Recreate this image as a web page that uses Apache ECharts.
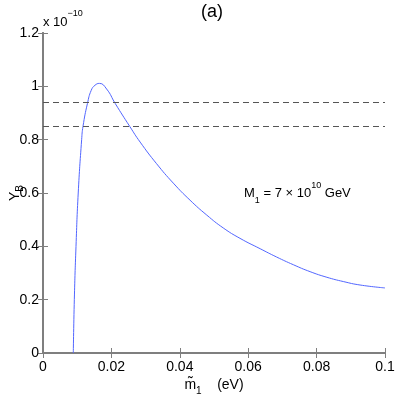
<!DOCTYPE html>
<html>
<head>
<meta charset="utf-8">
<script src="https://cdn.jsdelivr.net/npm/echarts@6/dist/echarts.min.js"></script>
<style>
  html, body { margin: 0; padding: 0; background: #fff; }
  #chart { width: 398px; height: 398px; }
</style>
</head>
<body>
<div id="chart"></div>
<script>
// m1 tilde (eV) vs Y_B (x 1e-10)
var xVals = [0.00886, 0.00916, 0.00965, 0.0103, 0.0113, 0.0117, 0.0130, 0.0141, 0.0152, 0.0165, 0.0186, 0.0211, 0.0254, 0.0284, 0.0332, 0.0381, 0.0430, 0.0479, 0.0527, 0.0576, 0.0635, 0.0683, 0.0732, 0.0781, 0.0830, 0.0878, 0.0927, 0.1];
var yVals = [0, 0.2, 0.4, 0.6, 0.8, 0.85, 0.936, 0.985, 1.004, 1.011, 0.990, 0.936, 0.849, 0.791, 0.710, 0.637, 0.573, 0.517, 0.469, 0.430, 0.391, 0.360, 0.331, 0.305, 0.284, 0.268, 0.255, 0.244];
// observed band (dashed)
var bandY = [0.936, 0.849];

var curve = xVals.map(function (x, i) { return [x, yVals[i]]; });

var axisGray = '#7f7f7f';
var font = 'Liberation Sans, Arial, sans-serif';

var mychart = echarts.init(document.getElementById('chart'));
var option = {
  animation: false,
  grid: { left: 43, right: 13, top: 33, bottom: 45, containLabel: false, outerBoundsMode: 'none' },
  xAxis: [
    {
      type: 'value', min: 0, max: 0.1, interval: 0.02,
      name: '{m|m\u0303}{s|1}{t|    (eV)}',
      nameLocation: 'middle', nameGap: 21, nameMoveOverlap: false,
      nameTextStyle: {
        color: '#000', fontFamily: font,
        rich: {
          m: { fontSize: 14, fontFamily: font, color: '#000', lineHeight: 22, verticalAlign: 'middle' },
          s: { fontSize: 10, fontFamily: font, color: '#000', lineHeight: 10, verticalAlign: 'bottom' },
          t: { fontSize: 14, fontFamily: font, color: '#000', lineHeight: 22, verticalAlign: 'middle' }
        }
      },
      axisLine: { lineStyle: { color: axisGray, width: 2 } },
      axisTick: { inside: true, length: 5, lineStyle: { color: axisGray } },
      axisLabel: { color: '#000', fontSize: 14, fontFamily: font, margin: 7 },
      splitLine: { show: false }
    },
    {
      type: 'value', min: 0, max: 0.1, interval: 0.02, position: 'top',
      axisLine: { lineStyle: { color: axisGray, width: 2 } },
      axisTick: { inside: true, length: 5, lineStyle: { color: axisGray } },
      axisLabel: { show: false },
      splitLine: { show: false }
    }
  ],
  yAxis: [
    {
      type: 'value', min: 0, max: 1.2, interval: 0.2,
      name: '{y|Y}{s|B}',
      nameLocation: 'middle', nameRotate: 90, nameGap: 18, nameMoveOverlap: false,
      nameTextStyle: {
        color: '#000', fontFamily: font,
        rich: {
          y: { fontSize: 14, fontFamily: font, color: '#000', lineHeight: 20, verticalAlign: 'middle' },
          s: { fontSize: 10, fontFamily: font, color: '#000', lineHeight: 10, verticalAlign: 'bottom' }
        }
      },
      axisLine: { show: true, lineStyle: { color: axisGray, width: 2 } },
      axisTick: { show: true, inside: true, length: 5, lineStyle: { color: axisGray } },
      axisLabel: { color: '#000', fontSize: 14, fontFamily: font, margin: 4 },
      splitLine: { show: false }
    },
    {
      type: 'value', min: 0, max: 1.2, interval: 0.2, position: 'right',
      axisLine: { show: true, lineStyle: { color: axisGray, width: 2 } },
      axisTick: { show: true, inside: true, length: 5, lineStyle: { color: axisGray } },
      axisLabel: { show: false },
      splitLine: { show: false }
    }
  ],
  graphic: [
    {
      type: 'text', left: 201, top: 3,
      style: { text: '(a)', fontSize: 18, fontFamily: font, fill: '#000' }
    },
    {
      type: 'text', left: 43, top: 9,
      style: {
        text: '{n|x 10}{p|\u221210}',
        fontFamily: font, fill: '#000',
        rich: {
          n: { fontSize: 13, fontFamily: font, lineHeight: 20, verticalAlign: 'bottom' },
          p: { fontSize: 9, fontFamily: font, lineHeight: 9, verticalAlign: 'top' }
        }
      }
    },
    {
      type: 'text', left: 244, top: 181,
      style: {
        text: '{n|M}{b|1}{n| = 7 \u00d7 10}{p|10}{n| GeV}',
        fontFamily: font, fill: '#000',
        rich: {
          n: { fontSize: 13, fontFamily: font, lineHeight: 24, verticalAlign: 'middle' },
          b: { fontSize: 9, fontFamily: font, lineHeight: 9, verticalAlign: 'bottom' },
          p: { fontSize: 9, fontFamily: font, lineHeight: 9, verticalAlign: 'top' }
        }
      }
    }
  ],
  series: [
    {
      type: 'line',
      data: curve,
      symbol: 'none',
      smooth: 0.5,
      lineStyle: { color: '#5266ff', width: 1 },
      markLine: {
        silent: true,
        symbol: 'none',
        label: { show: false },
        lineStyle: { color: '#555', width: 1, type: [6, 4] },
        data: bandY.map(function (v) { return { yAxis: v }; })
      }
    }
  ]
};
mychart.setOption(option);
</script>
</body>
</html>
